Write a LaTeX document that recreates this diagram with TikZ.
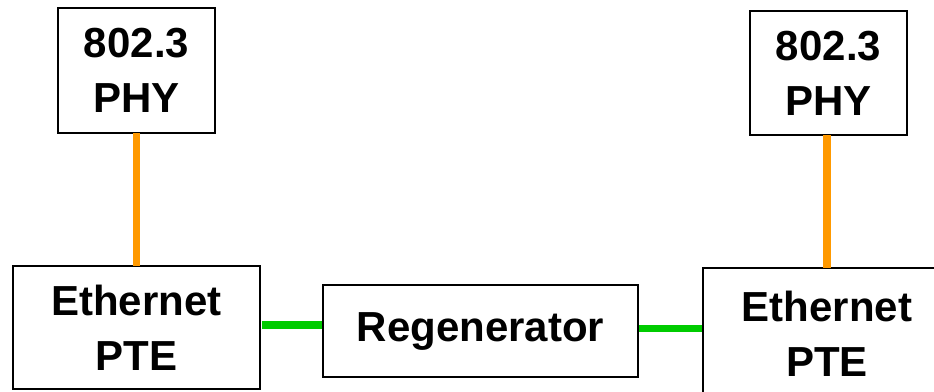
\documentclass[tikz,border=0pt]{standalone}
\usepackage{fontspec}
\setmainfont{Liberation Sans}
\begin{document}
\begin{tikzpicture}[x=1pt,y=-1pt,
  box/.style={draw=black,line width=1.6pt,fill=white,inner sep=0pt,align=center,
    font=\fontsize{42}{55}\selectfont\bfseries},
  phylink/.style={draw={rgb,255:red,255;green,153;blue,0},line width=7.5pt},
  netlink/.style={draw={rgb,255:red,0;green,204;blue,0},line width=7.5pt}]
\useasboundingbox (0,0) rectangle (934,391);
\clip (0,0) rectangle (934,391);
% boxes
\node[box,minimum width=157pt,minimum height=125pt] (phyL) at (136.5,70.5) {802.3\\PHY};
\node[box,minimum width=157pt,minimum height=124pt] (phyR) at (828.5,73) {802.3\\PHY};
\node[box,minimum width=247pt,minimum height=123pt] (pteL) at (136.5,327.5) {Ethernet\\PTE};
\node[box,minimum width=315pt,minimum height=92pt] (reg) at (480.5,331) {Regenerator};
% the right-hand PTE runs off the right and bottom edges
\node[box,minimum width=248pt,minimum height=132pt] (pteR) at (827,334) {Ethernet\\PTE};
% links
\draw[phylink] ([yshift=0.8pt]phyL.south) -- ([yshift=-0.8pt]pteL.north);
\draw[phylink] ([yshift=-0.8pt]pteR.north) -- ([yshift=0.8pt]pteR.north |- phyR.south);
\draw[netlink] ([xshift=1pt,yshift=2.5pt]pteL.east) -- ([yshift=2.5pt]pteL.east -| reg.west);
\draw[netlink] ([yshift=2.5pt]reg.east) -- ([yshift=2.5pt]reg.east -| pteR.west);
\end{tikzpicture}
\end{document}
